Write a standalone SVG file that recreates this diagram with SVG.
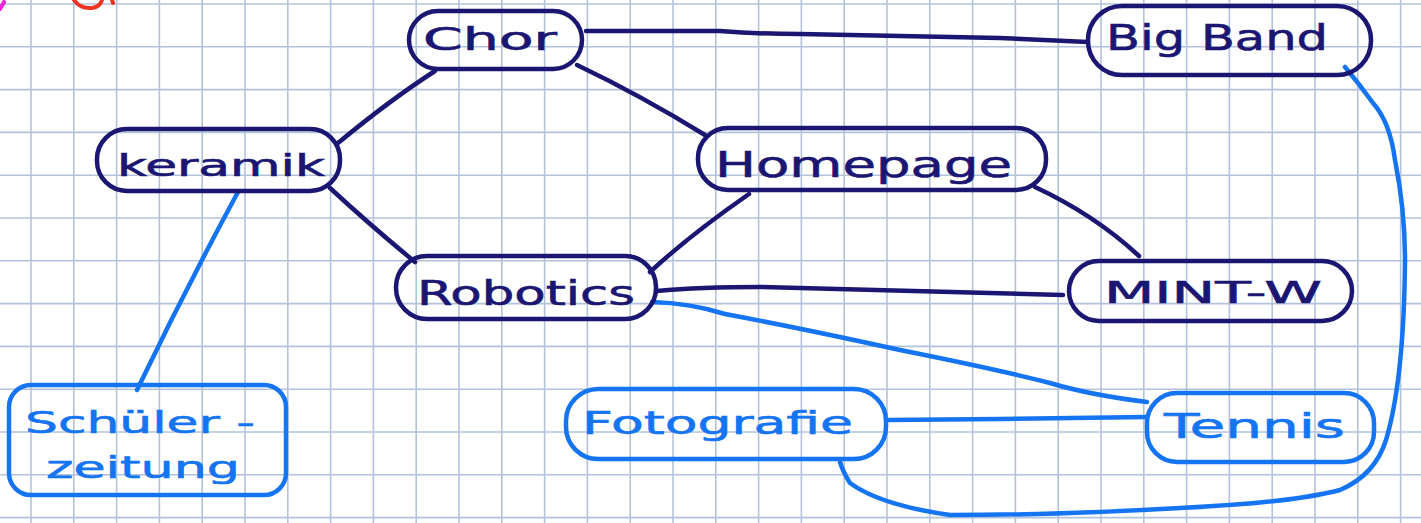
<svg xmlns="http://www.w3.org/2000/svg" width="1421" height="523" viewBox="0 0 1421 523">
<style>
.grid{stroke:#b3c2db;stroke-width:1.6;fill:none}
.nb{fill:none;stroke:#1a1672;stroke-width:4.5;stroke-linecap:round;stroke-linejoin:round}
.bb{fill:none;stroke:#1474f2;stroke-width:4.5;stroke-linecap:round;stroke-linejoin:round}
.tn{font-family:"DejaVu Sans","Liberation Sans",sans-serif;fill:#1a1672;stroke:#1a1672;stroke-width:0.6}
.tb{font-family:"DejaVu Sans","Liberation Sans",sans-serif;fill:#1474f2;stroke:#1474f2;stroke-width:0.6}
</style>
<rect x="0" y="0" width="1421" height="523" fill="#ffffff"/>
<path class="grid" d="M31,0V523M73.8,0V523M116.6,0V523M159.4,0V523M202.2,0V523M245,0V523M287.8,0V523M330.6,0V523M373.4,0V523M416.2,0V523M459,0V523M501.8,0V523M544.6,0V523M587.4,0V523M630.2,0V523M673,0V523M715.8,0V523M758.6,0V523M801.4,0V523M844.2,0V523M887,0V523M929.8,0V523M972.6,0V523M1015.4,0V523M1058.2,0V523M1101,0V523M1143.8,0V523M1186.6,0V523M1229.4,0V523M1272.2,0V523M1315,0V523M1357.8,0V523M1400.6,0V523M0,4H1421M0,46.8H1421M0,89.6H1421M0,132.4H1421M0,175.2H1421M0,218H1421M0,260.8H1421M0,303.6H1421M0,346.4H1421M0,389.2H1421M0,432H1421M0,474.8H1421M0,517.6H1421"/>
<g id="fragments">
<path d="M0,9 L4,2" fill="none" stroke="#ee22dd" stroke-width="4" stroke-linecap="round"/>
<path d="M74,0 Q80,9 92,8 Q100,7 102,0 M112,0 L113,3" fill="none" stroke="#ee3322" stroke-width="4" stroke-linecap="round"/>
</g>
<g id="connectors">
<path class="nb" d="M435,71 Q390,100 338,143"/>
<path class="nb" d="M586,31 L720,31 Q760,34 800,34 L1000,38 L1088,42"/>
<path class="nb" d="M577,65 Q640,95 705,135"/>
<path class="nb" d="M330,188 Q370,225 415,262"/>
<path class="nb" d="M749,194 Q690,235 650,272"/>
<path class="nb" d="M657,291 Q700,287 760,287 L1063,295"/>
<path class="nb" d="M1035,187 Q1095,215 1139,256"/>
<path class="bb" d="M238,192 Q185,290 137,390"/>
<path class="bb" d="M652,302 Q690,303 725,314 Q800,328 900,350 Q1000,370 1050,383 Q1090,395 1147,402"/>
<path class="bb" d="M888,420 L1000,419 L1147,417"/>
<path class="bb" d="M1345,67 Q1360,85 1373,103 Q1390,122 1395,160 Q1405,210 1405,260 Q1404,380 1386,440 Q1375,475 1340,490 Q1290,503 1180,508 Q1060,515 950,515 Q880,505 850,483 Q843,472 840,462"/>
</g>
<g id="node-chor">
<rect class="nb" x="409" y="11" width="173" height="58" rx="29"/>
<text class="tn" x="423" y="50" font-size="32" textLength="134" lengthAdjust="spacingAndGlyphs">Chor</text>
</g>
<g id="node-bigband">
<rect class="nb" x="1088" y="6" width="283" height="69" rx="34"/>
<text class="tn" x="1106" y="50" font-size="36" textLength="222" lengthAdjust="spacingAndGlyphs">Big Band</text>
</g>
<g id="node-keramik">
<rect class="nb" x="97" y="129" width="243" height="62" rx="30"/>
<text class="tn" x="117" y="176" font-size="30" textLength="208" lengthAdjust="spacingAndGlyphs">keramik</text>
</g>
<g id="node-homepage">
<rect class="nb" x="698" y="128" width="348" height="62" rx="30"/>
<text class="tn" x="715" y="177" font-size="36" textLength="297" lengthAdjust="spacingAndGlyphs">Homepage</text>
</g>
<g id="node-robotics">
<rect class="nb" x="396" y="256" width="260" height="63" rx="31"/>
<text class="tn" x="417" y="305" font-size="33" textLength="218" lengthAdjust="spacingAndGlyphs">Robotics</text>
</g>
<g id="node-mintw">
<rect class="nb" x="1069" y="261" width="283" height="60" rx="30"/>
<text class="tn" x="1104" y="303" font-size="31" textLength="218" lengthAdjust="spacingAndGlyphs">MINT-W</text>
</g>
<g id="node-schuelerzeitung">
<rect class="bb" x="9" y="385" width="277" height="110" rx="22"/>
<text class="tb" x="25" y="433" font-size="31" textLength="230" lengthAdjust="spacingAndGlyphs">Schüler -</text>
<text class="tb" x="46" y="478" font-size="31" textLength="194" lengthAdjust="spacingAndGlyphs">zeitung</text>
</g>
<g id="node-fotografie">
<rect class="bb" x="566" y="389" width="320" height="70" rx="32"/>
<text class="tb" x="582" y="434" font-size="32" textLength="271" lengthAdjust="spacingAndGlyphs">Fotografie</text>
</g>
<g id="node-tennis">
<rect class="bb" x="1147" y="393" width="227" height="69" rx="30"/>
<text class="tb" x="1164" y="438" font-size="33" textLength="181" lengthAdjust="spacingAndGlyphs">Tennis</text>
</g>
</svg>
